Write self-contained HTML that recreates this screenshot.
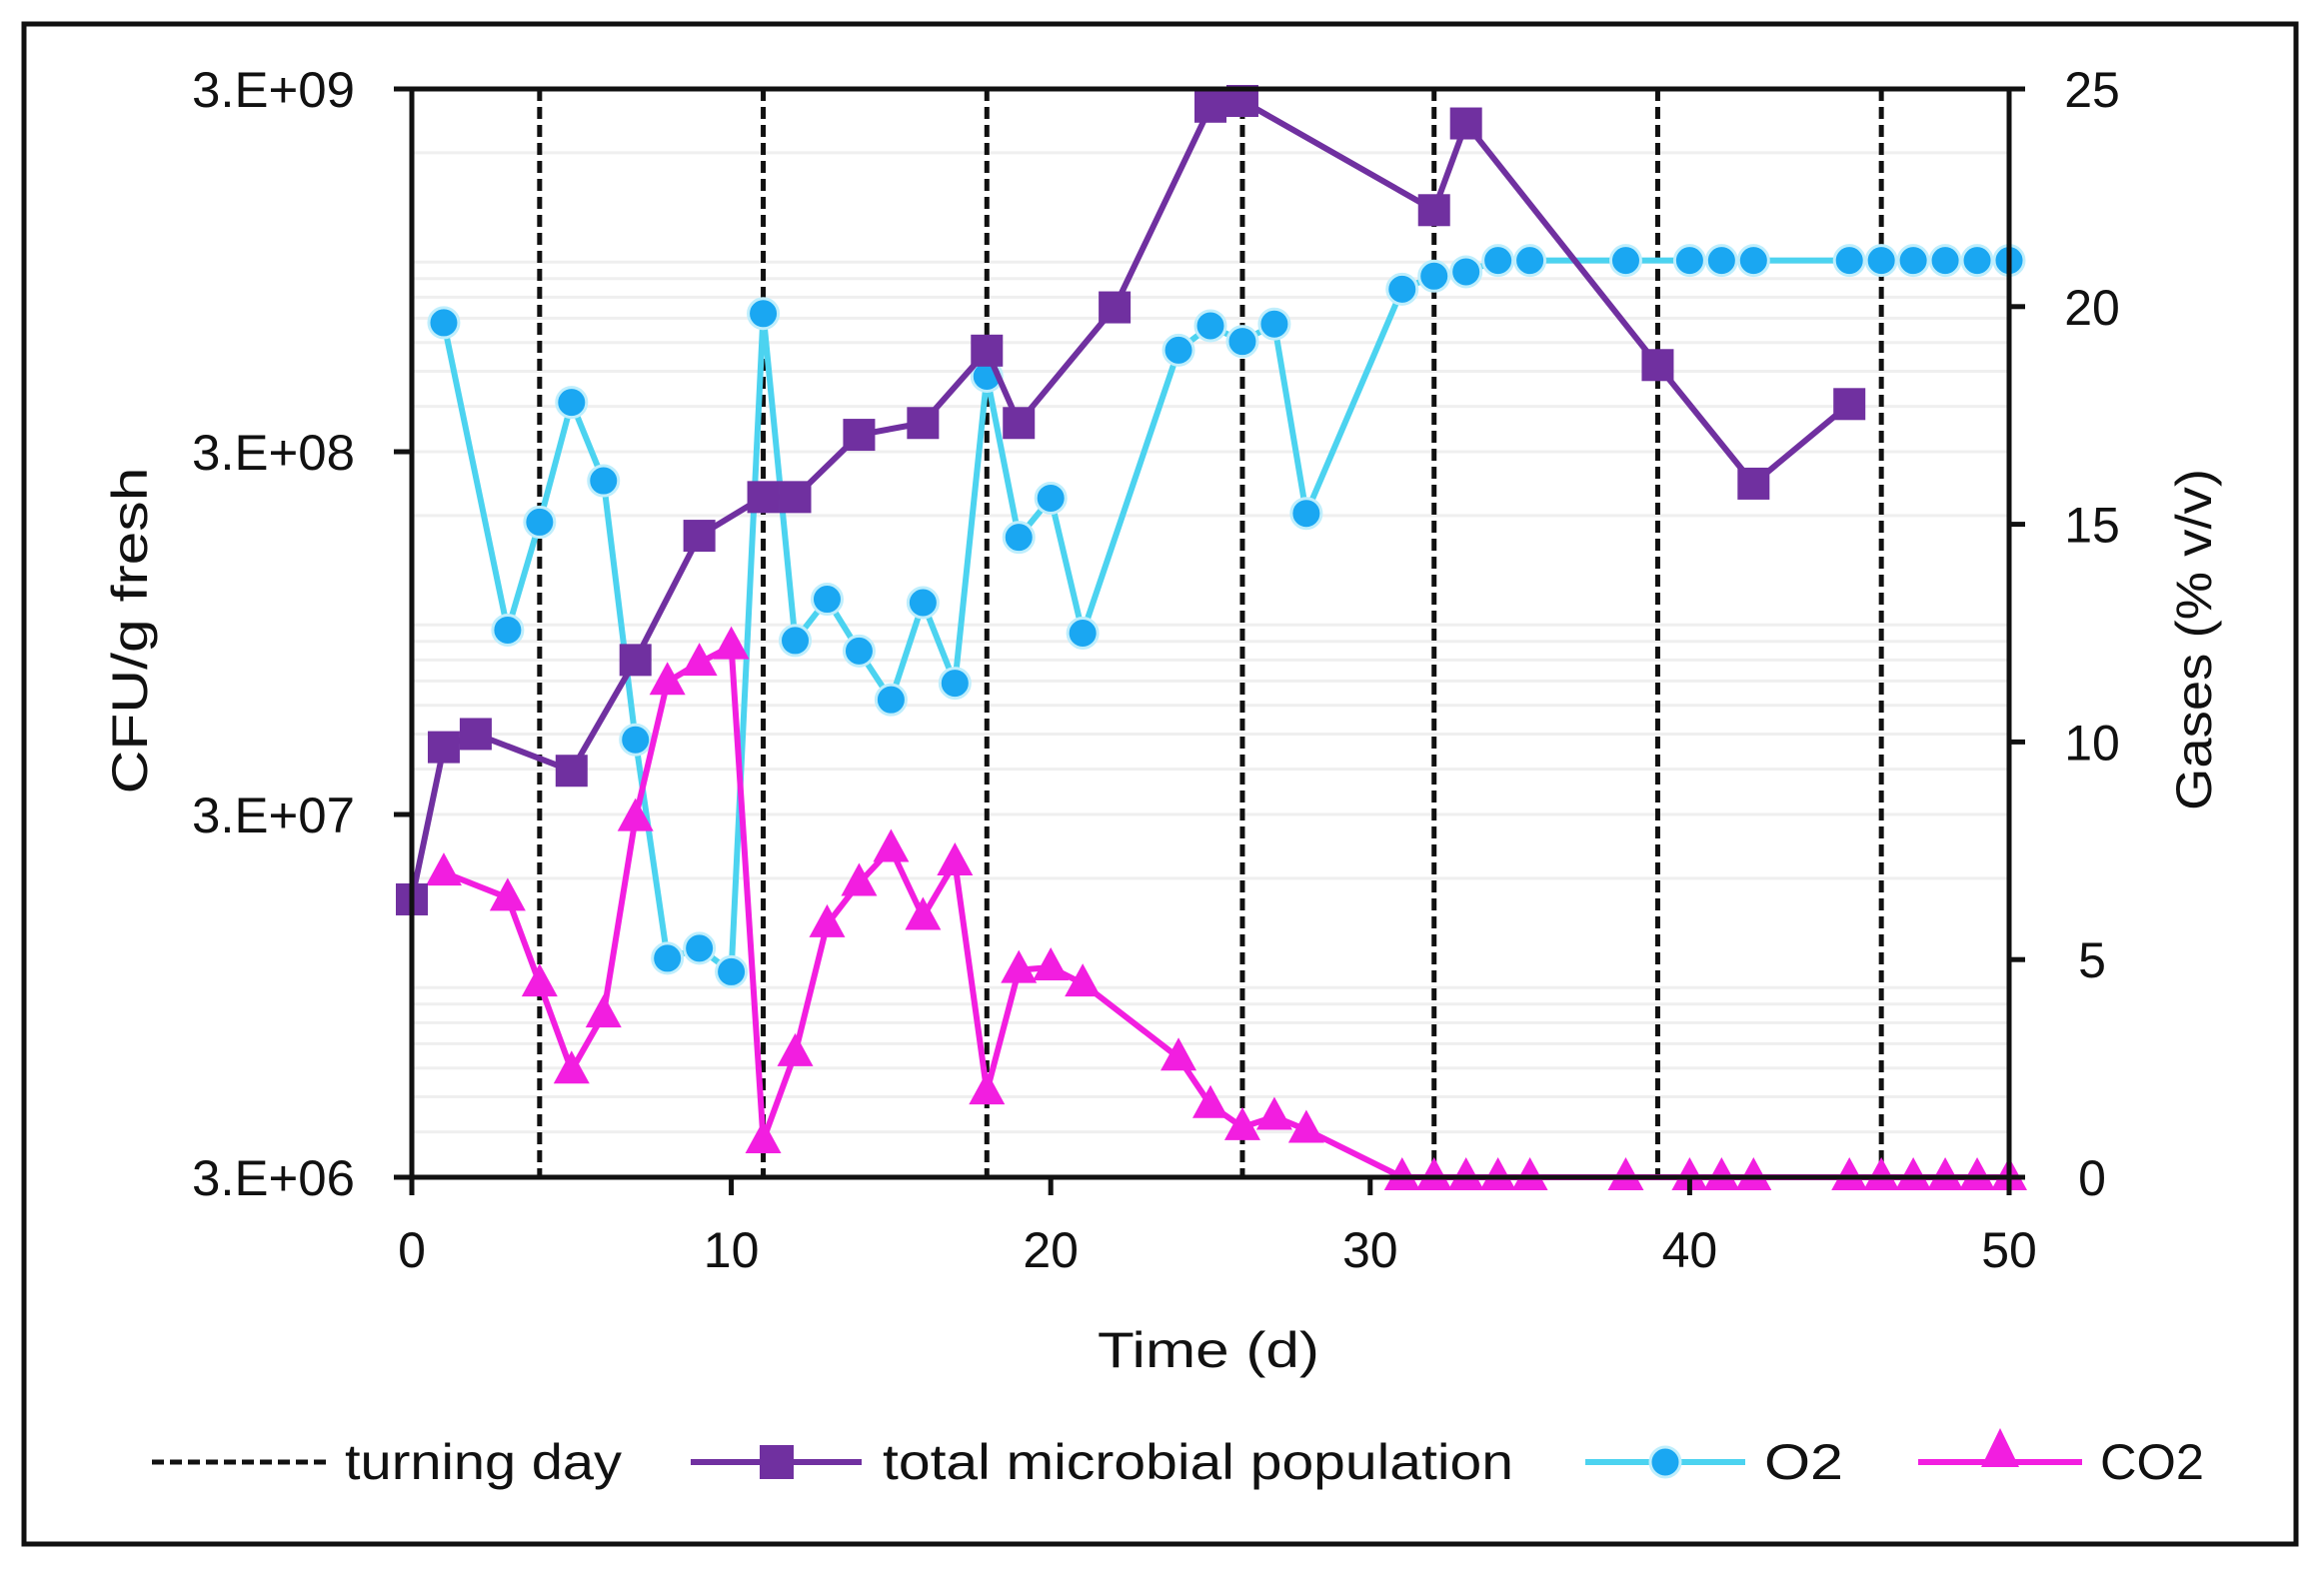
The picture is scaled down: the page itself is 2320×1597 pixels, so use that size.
<!DOCTYPE html>
<html><head><meta charset="utf-8"><style>
body{margin:0;background:#fff}
svg text{font-family:"Liberation Sans",sans-serif;fill:#111}
</style></head><body>
<svg id="chart" width="2320" height="1592" viewBox="0 0 2320 1592" xmlns="http://www.w3.org/2000/svg">
<rect x="24" y="24" width="2273" height="1521" fill="#fff" stroke="#111" stroke-width="5"/>
<g id="grid"></g>
<g id="turn"></g>
<g id="series"></g>
<g id="axes"></g>
<text x="130" y="631" font-size="50" text-anchor="middle" transform="rotate(-90 130 631)" dy="17" textLength="327" lengthAdjust="spacingAndGlyphs">CFU/g  fresh</text>
<text x="2195" y="640" font-size="50" text-anchor="middle" transform="rotate(-90 2195 640)" dy="17" textLength="342" lengthAdjust="spacingAndGlyphs">Gases (% v/v)</text>
<text x="1209" y="1368" font-size="50" text-anchor="middle" textLength="222" lengthAdjust="spacingAndGlyphs">Time (d)</text>
<g>
<g>
<line x1="152" y1="1463" x2="328" y2="1463" stroke="#111" stroke-width="5" stroke-dasharray="12,6"/>
<text x="345" y="1480" font-size="50" textLength="277" lengthAdjust="spacingAndGlyphs">turning day</text></g>
<g>
<line x1="691" y1="1463" x2="862" y2="1463" stroke="#7030a0" stroke-width="6"/>
<rect x="760" y="1446" width="34" height="34" fill="#7030a0"/>
<text x="883" y="1480" font-size="50" textLength="631" lengthAdjust="spacingAndGlyphs">total microbial population</text></g>
<g>
<line x1="1586" y1="1463" x2="1746" y2="1463" stroke="#4cd3f0" stroke-width="6"/>
<circle cx="1666" cy="1463" r="15" fill="#1aa7f2" stroke="#bfeefc" stroke-width="3"/>
<text x="1765" y="1480" font-size="50" textLength="79" lengthAdjust="spacingAndGlyphs">O2</text></g>
<g>
<line x1="1919" y1="1463" x2="2083" y2="1463" stroke="#f21ee0" stroke-width="6"/>
<polygon points="2001,1429 2020,1468 1982,1468" fill="#f21ee0"/>
<text x="2101" y="1480" font-size="50" textLength="104" lengthAdjust="spacingAndGlyphs">CO2</text></g>
</g>
</svg>
<script>
const turningDays=[4,11,18,26,32,39,46];
const micDays=[0,1,2,5,7,9,11,12,14,16,18,19,22,25,26,32,33,39,42,45];
const micVals=[1.75e7,4.6e7,5.0e7,3.96e7,8.0e7,1.76e8,2.25e8,2.25e8,3.34e8,3.6e8,5.7e8,3.6e8,7.5e8,2.68e9,2.78e9,1.39e9,2.41e9,5.2e8,2.45e8,4.06e8];
const o2Days=[1,3,4,5,6,7,8,9,10,11,12,13,14,15,16,17,18,19,20,21,24,25,26,27,28,31,32,33,34,35,38,40,41,42,45,46,47,48,49,50];
const o2Vals=[19.63,12.57,15.05,17.8,16.0,10.05,5.03,5.26,4.72,19.84,12.33,13.28,12.09,10.97,13.2,11.35,18.4,14.7,15.6,12.5,19.0,19.56,19.2,19.6,15.25,20.4,20.7,20.8,21.06,21.06,21.06,21.06,21.06,21.06,21.06,21.06,21.06,21.06,21.06,21.06];
const co2Days=[1,3,4,5,6,7,8,9,10,11,12,13,14,15,16,17,18,19,20,21,24,25,26,27,28,31,32,33,34,35,38,40,41,42,45,46,47,48,49,50];
const co2Vals=[7.0,6.42,4.45,2.45,3.74,8.25,11.38,11.82,12.2,0.85,2.85,5.81,6.76,7.54,5.98,7.23,1.97,4.76,4.82,4.45,2.75,1.66,1.15,1.39,1.09,0,0,0,0,0,0,0,0,0,0,0,0,0,0,0];
const xTicks=[0,10,20,30,40,50];
const leftTicks=[3e6,3e7,3e8,3e9];
const leftLabels=["3.E+06","3.E+07","3.E+08","3.E+09"];
const rightTicks=[0,5,10,15,20,25];

const L=412,R=2010,T=89,B=1178;
const NS="http://www.w3.org/2000/svg";
const X=d=>L+(R-L)*d/50;
const YL=v=>B-(B-T)*(Math.log10(v)-Math.log10(3e6))/3;
const YR=v=>B-(B-T)*v/25;
function mk(tag,attrs,parent){const e=document.createElementNS(NS,tag);for(const k in attrs)e.setAttribute(k,attrs[k]);parent.appendChild(e);return e;}
const grid=document.getElementById('grid'),turn=document.getElementById('turn'),ser=document.getElementById('series'),axes=document.getElementById('axes');
for(let e=6;e<=9;e++)for(let k=1;k<=9;k++){const v=k*Math.pow(10,e);if(v<=3e6||v>=3e9)continue;
 const g=mk('line',{x1:L,x2:R,y1:YL(v),y2:YL(v),stroke:'#efefef','stroke-width':3},grid);
 
 }
turningDays.forEach(d=>{const l=mk('line',{x1:X(d),x2:X(d),y1:T,y2:B,stroke:'#111','stroke-width':5,'stroke-dasharray':'12,6'},turn);
 
 });
function poly(pts){return 'M'+pts.map(p=>p[0]+','+p[1]).join(' L');}
const o2p=o2Days.map((d,i)=>[X(d),YR(o2Vals[i])]);
const o2l=mk('path',{d:poly(o2p),fill:'none',stroke:'#4cd3f0','stroke-width':6,'stroke-linejoin':'round'},ser);


o2p.forEach(p=>{const c=mk('circle',{cx:p[0],cy:p[1],r:15,fill:'#1aa7f2',stroke:'#bfeefc','stroke-width':3},ser);
 
 });
const cp=co2Days.map((d,i)=>[X(d),YR(co2Vals[i])]);
const cl=mk('path',{d:poly(cp),fill:'none',stroke:'#f21ee0','stroke-width':6,'stroke-linejoin':'round'},ser);


cp.forEach(p=>{const t=mk('polygon',{points:`${p[0]},${p[1]-20} ${p[0]+18},${p[1]+13} ${p[0]-18},${p[1]+13}`,fill:'#f21ee0'},ser);
 
 });
const mp=micDays.map((d,i)=>[X(d),YL(micVals[i])]);
const ml=mk('path',{d:poly(mp),fill:'none',stroke:'#7030a0','stroke-width':6,'stroke-linejoin':'round'},ser);


mp.forEach(p=>{const r=mk('rect',{x:p[0]-16,y:p[1]-16,width:32,height:32,fill:'#7030a0'},ser);
 
 });
const ax=[[L,T,L,B],[R,T,R,B],[L,B,R,B],[L,T,R,T]];
ax.forEach(a=>{const l=mk('line',{x1:a[0],y1:a[1],x2:a[2],y2:a[3],stroke:'#111','stroke-width':5},axes);
 
 });
xTicks.forEach(d=>{mk('line',{x1:X(d),x2:X(d),y1:B,y2:B+18,stroke:'#111','stroke-width':5},axes);
 const t=mk('text',{x:X(d),y:B+90,'font-size':50,'text-anchor':'middle'},axes);t.textContent=d;
 
 });
leftTicks.forEach((v,i)=>{mk('line',{x1:L-18,x2:L,y1:YL(v),y2:YL(v),stroke:'#111','stroke-width':5},axes);
 const t=mk('text',{x:355,y:YL(v)+18,'font-size':50,'text-anchor':'end',textLength:163,lengthAdjust:'spacingAndGlyphs'},axes);t.textContent=leftLabels[i];
 
 });
rightTicks.forEach(v=>{mk('line',{x1:R,x2:R+16,y1:YR(v),y2:YR(v),stroke:'#111','stroke-width':5},axes);
 const t=mk('text',{x:2093,y:YR(v)+18,'font-size':50,'text-anchor':'middle'},axes);t.textContent=v;
 
 });
</script>
</body></html>
